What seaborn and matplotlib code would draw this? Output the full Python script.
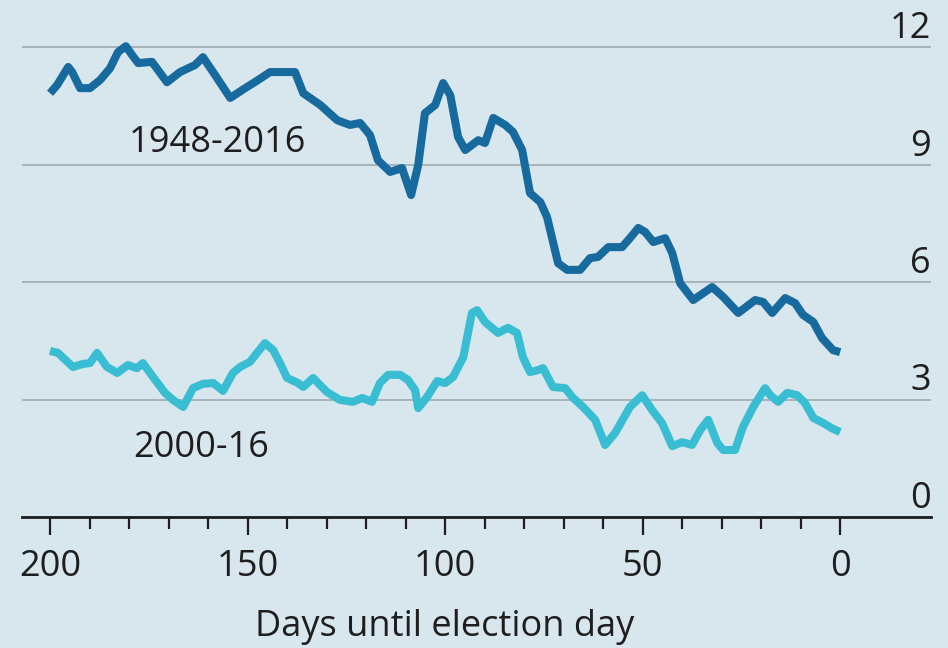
import pandas as pd
import seaborn as sns
import matplotlib.pyplot as plt

# values
days_1948 = [200, 198.2, 195.4, 194.4, 192.4, 189.9, 187.3, 184.8, 182.8, 180.8,
             179.2, 177.7, 174.2, 170.4, 167.1, 163.3, 161.3, 158.2, 154.4, 150.6,
             147.3, 144.3, 138.0, 135.9, 131.6, 127.3, 124.1, 121.5, 119.0, 117.0,
             113.9, 110.9, 108.6, 106.8, 105.1, 102.5, 100.5, 98.7, 96.7, 94.9,
             91.6, 89.9, 87.8, 84.8, 82.8, 80.5, 78.5, 75.9, 74.2, 71.4,
             69.1, 65.8, 63.3, 61.3, 58.7, 55.2, 53.2, 51.1, 49.4, 47.3,
             44.3, 42.5, 40.5, 37.2, 32.4, 29.6, 25.8, 21.5, 19.5, 17.2,
             13.9, 11.4, 9.4, 6.8, 4.6, 1.8, 0]
vals_1948 = [10.82, 11.03, 11.49, 11.36, 10.95, 10.95, 11.16, 11.46, 11.87, 12.02,
             11.79, 11.59, 11.62, 11.10, 11.36, 11.54, 11.74, 11.28, 10.70, 10.95,
             11.16, 11.36, 11.36, 10.82, 10.52, 10.13, 10.01, 10.06, 9.75, 9.11,
             8.81, 8.91, 8.22, 8.99, 10.31, 10.52, 11.08, 10.77, 9.70, 9.37,
             9.62, 9.55, 10.19, 10.01, 9.83, 9.37, 8.27, 8.04, 7.66, 6.48,
             6.31, 6.31, 6.61, 6.64, 6.89, 6.89, 7.12, 7.38, 7.28, 7.02,
             7.12, 6.74, 5.97, 5.54, 5.87, 5.62, 5.21, 5.54, 5.49, 5.21,
             5.59, 5.46, 5.16, 4.98, 4.57, 4.26, 4.21]

days_2000 = [200, 198.0, 194.2, 191.6, 189.9, 188.1, 185.6, 183.0, 180.3, 178.0,
             176.5, 173.9, 170.9, 168.9, 166.3, 163.8, 161.3, 158.7, 156.2, 153.7,
             151.9, 149.4, 147.6, 145.6, 143.5, 141.8, 140.0, 137.2, 135.9, 133.4,
             129.9, 126.6, 123.3, 121.0, 118.5, 116.5, 114.4, 111.4, 109.4, 107.6,
             106.8, 104.6, 102.0, 100.0, 98.0, 95.4, 93.2, 91.9, 89.9, 86.6,
             84.1, 81.8, 80.3, 78.5, 76.5, 75.2, 72.7, 69.6, 67.8, 65.1,
             62.0, 59.5, 57.0, 53.2, 50.1, 47.6, 45.1, 42.5, 40.0, 37.5,
             35.4, 33.4, 31.1, 29.6, 26.6, 24.6, 22.0, 19.0, 17.7, 15.7,
             13.4, 10.9, 8.9, 6.8, 4.3, 1.8, 0]
vals_2000 = [4.24, 4.19, 3.83, 3.91, 3.93, 4.19, 3.83, 3.68, 3.88, 3.80,
             3.93, 3.57, 3.17, 2.99, 2.81, 3.29, 3.40, 3.42, 3.22, 3.68,
             3.83, 3.96, 4.19, 4.44, 4.26, 3.93, 3.55, 3.42, 3.32, 3.55,
             3.19, 2.99, 2.94, 3.04, 2.94, 3.42, 3.63, 3.63, 3.50, 3.24,
             2.78, 3.06, 3.47, 3.42, 3.57, 4.08, 5.21, 5.28, 4.98, 4.70,
             4.83, 4.70, 4.08, 3.70, 3.75, 3.80, 3.32, 3.29, 3.06, 2.81,
             2.48, 1.84, 2.14, 2.81, 3.11, 2.73, 2.40, 1.81, 1.91, 1.84,
             2.22, 2.48, 1.89, 1.71, 1.71, 2.30, 2.81, 3.29, 3.11, 2.94,
             3.17, 3.11, 2.91, 2.53, 2.40, 2.25, 2.17]

x_major = [200, 150, 100, 50, 0]
x_minor = [190, 180, 170, 160, 140, 130, 120, 110, 90, 80, 70, 60, 40, 30, 20, 10]
y_ticks = [0, 3, 6, 9, 12]

bg = '#d8e6ee'
dark_blue = '#176a9d'
cyan = '#38bdd2'
ink = '#1e1e1e'

sns.set_theme(style='white')
plt.rcParams['font.family'] = ['Open Sans', 'DejaVu Sans']

df = pd.concat([
    pd.DataFrame({'days': days_1948, 'value': vals_1948, 'period': '1948-2016'}),
    pd.DataFrame({'days': days_2000, 'value': vals_2000, 'period': '2000-16'}),
])

fig = plt.figure(figsize=(9.48, 6.48), dpi=100, facecolor=bg)
ax = fig.add_axes([22 / 948, 131 / 648, 909 / 948, 517 / 648])
ax.set_facecolor(bg)

sns.lineplot(data=df, x='days', y='value', hue='period', sort=False,
             palette={'1948-2016': dark_blue, '2000-16': cyan},
             linewidth=5.8, legend=False, ax=ax,
             solid_capstyle='butt', solid_joinstyle='round')

ax.set_xlim(207.1, -23.0)
ax.set_ylim(0, 13.2)

# horizontal grid, labels on the right sitting above each line
ax.set_yticks(y_ticks)
ax.yaxis.grid(True, color='#a7b2b9', linewidth=1.4)
ax.xaxis.grid(False)
ax.set_axisbelow(True)
ax.yaxis.tick_right()
ax.tick_params(axis='y', length=0, pad=0, labelsize=26, labelcolor=ink)
for t in ax.yaxis.get_major_ticks():
    t.label2.set_horizontalalignment('right')
    t.label2.set_verticalalignment('bottom')

for s in ['top', 'left', 'right']:
    ax.spines[s].set_visible(False)
ax.spines['bottom'].set_color(ink)
ax.spines['bottom'].set_linewidth(2)

ax.set_xticks(x_major)
ax.set_xticks(x_minor, minor=True)
ax.tick_params(axis='x', which='both', bottom=True)
ax.tick_params(axis='x', which='major', direction='out', length=13, width=1.6,
               color=ink, labelsize=26, labelcolor=ink, pad=10)
ax.tick_params(axis='x', which='minor', direction='out', length=8.5, width=1.6,
               color=ink)

ax.set_ylabel('')
ax.set_xlabel('Days until election day', fontsize=26, color=ink)
ax.xaxis.set_label_coords(0.465, -0.178)

ax.text(157.7, 9.32, '1948-2016', fontsize=26, color=ink, ha='center', va='baseline')
ax.text(161.8, 1.53, '2000-16', fontsize=26, color=ink, ha='center', va='baseline')

fig.savefig('out.png', dpi=100, facecolor=bg)
